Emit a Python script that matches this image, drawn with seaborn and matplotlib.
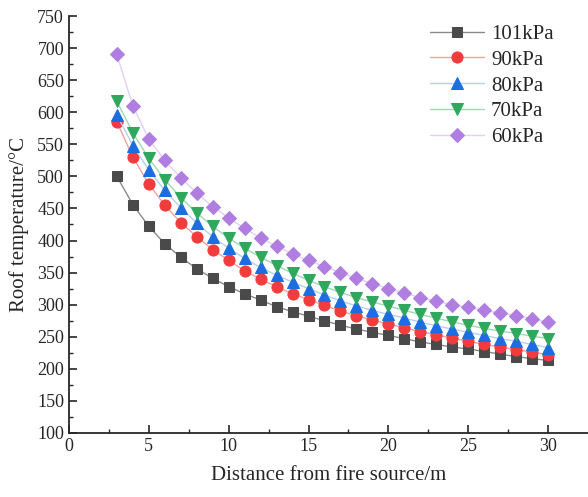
import pandas as pd
import seaborn as sns
import matplotlib.pyplot as plt
import numpy as np

# distance from fire source (m)
distance = list(range(3, 31))

# roof temperature (C) per ambient pressure
t_101 = [500, 456, 422, 395, 374, 356, 341, 328, 317, 307, 297, 289, 282, 275,
         268, 262, 257, 252, 247, 242, 238, 234, 231, 227, 223, 219, 216, 213]
t_90 = [585, 530, 488, 455, 428, 406, 386, 369, 353, 340, 328, 317, 308, 299,
        290, 283, 276, 270, 264, 258, 253, 248, 243, 238, 234, 230, 226, 222]
t_80 = [596, 548, 510, 478, 451, 427, 406, 388, 372, 358, 346, 335, 325, 315,
        306, 298, 291, 285, 279, 273, 267, 262, 257, 252, 247, 243, 238, 233]
t_70 = [617, 568, 528, 495, 467, 443, 422, 404, 388, 374, 361, 349, 338, 328,
        319, 311, 304, 298, 291, 285, 279, 273, 268, 263, 259, 255, 251, 247]
t_60 = [690, 610, 558, 525, 498, 474, 453, 435, 419, 404, 391, 379, 369, 359,
        350, 341, 333, 325, 318, 311, 305, 300, 296, 291, 287, 283, 278, 273]

labels = ["101kPa", "90kPa", "80kPa", "70kPa", "60kPa"]
series = [t_101, t_90, t_80, t_70, t_60]
colors = ["#4a4a4a", "#f03c3c", "#1c6ee0", "#2fa85e", "#b07ee0"]
line_colors = ["#8a8a8a", "#f6a0a0", "#b4d0f4", "#9fd8b4", "#e2cff4"]
markers = ["s", "o", "^", "v", "D"]
msizes = [7, 8, 8, 8, 7]

sns.set_style("ticks")
plt.rcParams["font.family"] = ["Liberation Serif", "DejaVu Serif"]

fig = plt.figure(figsize=(5.88, 4.97), dpi=100)
ax = fig.add_axes([0.1173, 0.1288, 0.8827, 0.8390])

for lab, vals, c, lc, m, ms in zip(labels, series, colors, line_colors, markers, msizes):
    df = pd.DataFrame({"x": distance, "y": vals})
    sns.lineplot(data=df, x="x", y="y", ax=ax, color=lc, lw=1.0,
                 marker=m, markersize=ms, markerfacecolor=c,
                 markeredgecolor=c, label=lab)

ax.set_xlim(0, 32.5)
ax.set_ylim(100, 750)
ax.set_xticks(np.arange(0, 31, 5))
ax.set_yticks(np.arange(100, 751, 50))
ax.set_xticks(np.arange(0, 32.5, 2.5), minor=True)
ax.set_yticks(np.arange(100, 751, 25), minor=True)
ax.tick_params(which="major", direction="in", length=6, width=1.2, labelsize=13)
ax.tick_params(which="minor", direction="in", length=3, width=1.0)
for s in ["left", "bottom"]:
    ax.spines[s].set_linewidth(1.3)
sns.despine(ax=ax)

ax.set_xlabel("Distance from fire source/m", fontsize=15, labelpad=8)
ax.set_ylabel("Roof temperature/\u00b0C", fontsize=15, labelpad=6)

ax.legend(loc="upper right", bbox_to_anchor=(0.97, 1.025), frameon=False,
          fontsize=15, handlelength=2.6, labelspacing=0.3, handletextpad=0.35)

fig.savefig("out.png", dpi=100)
